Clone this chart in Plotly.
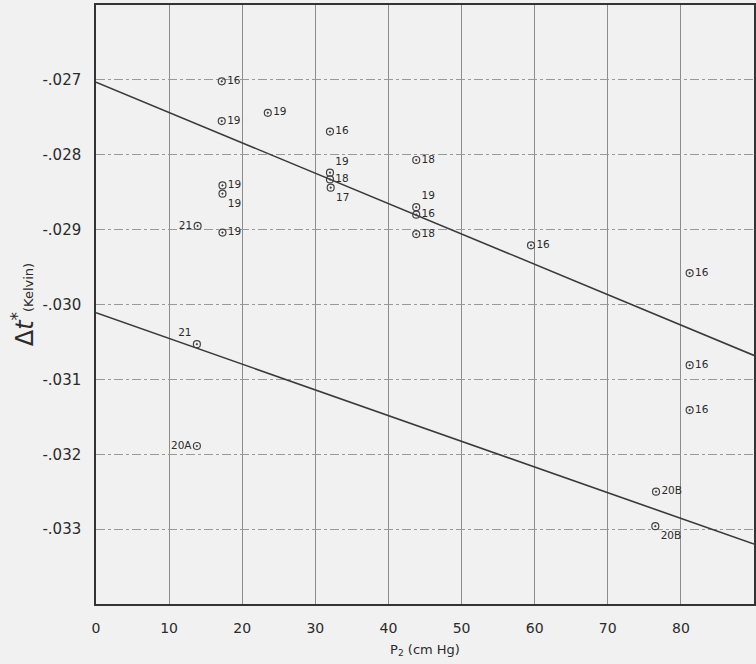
import plotly.graph_objects as go

# Observed points (P2 in cm Hg, delta t* in Kelvin) and their run labels
p2 = [17.2, 17.2, 23.5, 32.0, 32.0, 32.0, 32.1, 17.3, 17.3, 13.9, 17.3,
      43.8, 43.8, 43.8, 43.8, 59.5, 13.8, 13.8, 81.2, 81.2, 81.2, 76.6, 76.5]
dt = [-0.02702, -0.02755, -0.02744, -0.02769, -0.02824, -0.02833, -0.02844,
      -0.02841, -0.02852, -0.02895, -0.02904, -0.02807, -0.02870, -0.02880,
      -0.02906, -0.02921, -0.03053, -0.03189, -0.02958, -0.03081, -0.03141,
      -0.03250, -0.03296]
runs = ["16", "19", "19", "16", "19", "18", "17", "19", "19", "21", "19",
        "18", "19", "16", "18", "16", "21", "20A", "16", "16", "16", "20B", "20B"]
label_pos = ["middle right", "middle right", "middle right", "middle right",
             "top right", "middle right", "bottom right", "middle right",
             "bottom right", "middle left", "middle right", "middle right",
             "top right", "middle right", "middle right", "middle right",
             "top left", "middle left", "middle right", "middle right",
             "middle right", "middle right", "bottom right"]

# Two fitted straight lines
fit_x = [0, 90]
upper_fit = [-0.02703, -0.03068]
lower_fit = [-0.03011, -0.03320]

x_ticks = [0, 10, 20, 30, 40, 50, 60, 70, 80]
y_ticks = [-0.027, -0.028, -0.029, -0.030, -0.031, -0.032, -0.033]
y_ticktext = ["-.027", "-.028", "-.029", "-.030", "-.031", "-.032", "-.033"]

BG = "#f1f1f1"
INK = "#2b2b2b"

fig = go.Figure()

for fit in (upper_fit, lower_fit):
    fig.add_trace(go.Scatter(
        x=fit_x, y=fit, mode="lines",
        line=dict(color="#3a3a3a", width=1.6),
        showlegend=False, hoverinfo="skip",
    ))

fig.add_trace(go.Scatter(
    x=p2, y=dt, mode="markers+text",
    text=runs, textposition=label_pos,
    textfont=dict(family="DejaVu Sans", size=10.5, color=INK),
    marker=dict(symbol="circle-dot", size=7, color="rgba(0,0,0,0)",
                line=dict(color="#444", width=1.2)),
    showlegend=False,
))

fig.update_layout(
    width=756, height=664,
    margin=dict(l=96, r=2, t=5, b=60),
    paper_bgcolor=BG, plot_bgcolor=BG,
    font=dict(family="DejaVu Sans", color=INK),
    xaxis=dict(
        range=[0, 90], tickvals=x_ticks, ticks="", automargin=False,
        tickfont=dict(size=14), ticklabelstandoff=10,
        showgrid=True, gridcolor="#8c8c8c", gridwidth=1,
        showline=True, linecolor="#333", linewidth=1.5, mirror=True,
        zeroline=False,
        title=dict(text="P<sub>2</sub> (cm Hg)", font=dict(size=13), standoff=10),
    ),
    yaxis=dict(
        range=[-0.034, -0.026], tickvals=y_ticks, ticktext=y_ticktext, ticks="",
        automargin=False,
        tickfont=dict(size=15), ticklabelstandoff=10,
        showgrid=True, gridcolor="#999999", gridwidth=1, griddash="dashdot",
        showline=True, linecolor="#333", linewidth=1.5, mirror=True,
        zeroline=False,
        title=dict(text="\u0394<i>t</i><sup>*</sup><span style='font-size:13px'>(Kelvin)</span>",
                   font=dict(size=24), standoff=2),
    ),
)

# page body has a default margin; drop it so the figure fills the window
fig.write_html(
    "out.html",
    config={"displayModeBar": False},
    post_script="document.body.style.margin='0';",
)
